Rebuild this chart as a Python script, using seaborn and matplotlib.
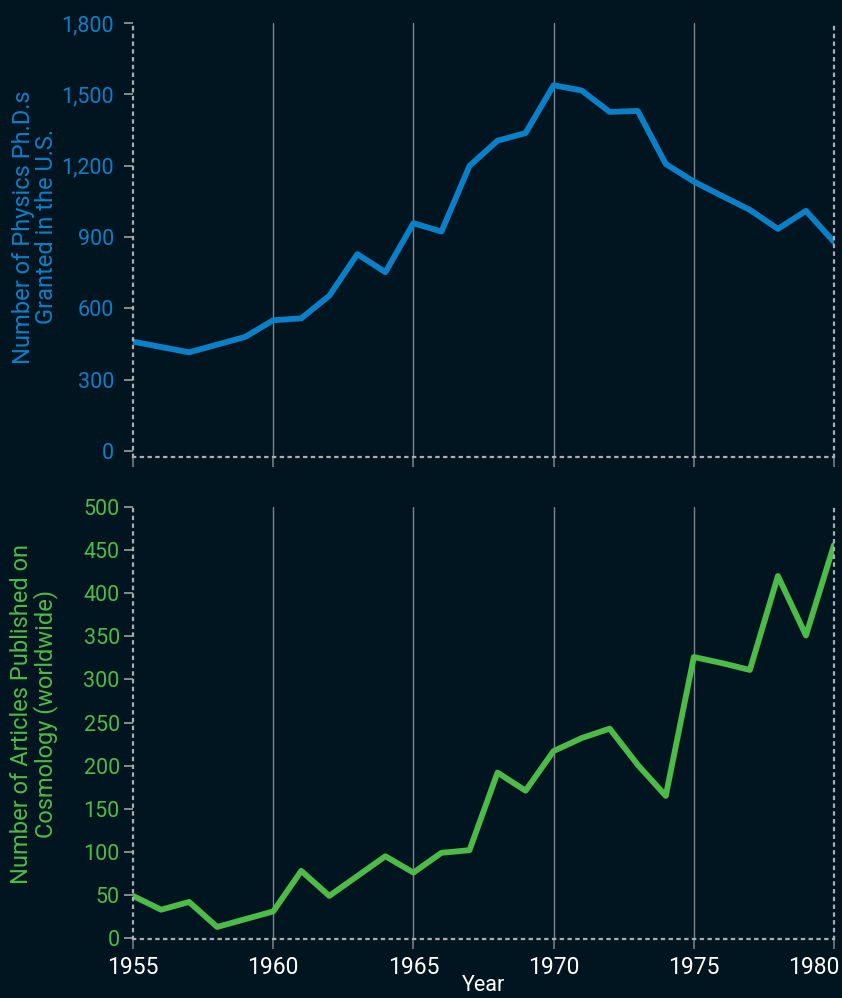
import numpy as np
import pandas as pd
import matplotlib
matplotlib.use("Agg")
import matplotlib.pyplot as plt
from matplotlib.ticker import StrMethodFormatter
from matplotlib.transforms import ScaledTranslation
import seaborn as sns

# --- data ---
phd_years = [1955, 1957, 1959, 1960, 1961, 1962, 1963, 1964, 1965, 1966, 1967, 1968,
             1969, 1970, 1971, 1972, 1973, 1974, 1975, 1976, 1977, 1978, 1979, 1980]
phd_counts = [460, 415, 480, 550, 558, 653, 828, 752, 958, 923, 1199, 1305,
              1337, 1538, 1516, 1426, 1430, 1207, 1133, 1073, 1014, 934, 1010, 879]

cosmo_years = list(range(1955, 1981))
cosmo_articles = [49, 33, 42, 13, 22, 31, 78, 49, 72, 95, 76, 99, 102,
                  192, 171, 217, 232, 243, 201, 165, 326, 319, 311, 420, 351, 456]

year_ticks = [1955, 1960, 1965, 1970, 1975, 1980]
phd_ticks = [0, 300, 600, 900, 1200, 1500, 1800]
cosmo_ticks = [0, 50, 100, 150, 200, 250, 300, 350, 400, 450, 500]

BG = "#001520"
BLUE = "#0a80c8"
GREEN = "#4dbb47"
GRID = "#7d858c"
SPINE = "#a9adb2"

sns.set_theme(style="dark", rc={
    "axes.facecolor": BG,
    "figure.facecolor": BG,
    "text.color": "white",
    "xtick.color": SPINE,
    "ytick.color": SPINE,
})
plt.rcParams["font.family"] = ["Roboto", "DejaVu Sans"]

df_phd = pd.DataFrame({"year": phd_years, "count": phd_counts})
df_cosmo = pd.DataFrame({"year": cosmo_years, "count": cosmo_articles})

fig = plt.figure(figsize=(8.42, 9.98), dpi=100)
ax1 = fig.add_axes([0.158, 0.5421, 0.8325, 0.4349])
ax2 = fig.add_axes([0.158, 0.0591, 0.8325, 0.4329])

sns.lineplot(data=df_phd, x="year", y="count", ax=ax1, color=BLUE, linewidth=4.2)
sns.lineplot(data=df_cosmo, x="year", y="count", ax=ax2, color=GREEN, linewidth=4.2)

ax1.set_ylim(-25, 1800)
ax2.set_ylim(-1, 500)

for ax, ticks, col, pad in [(ax1, phd_ticks, BLUE, 7), (ax2, cosmo_ticks, GREEN, 3)]:
    ax.set_xlim(1955, 1980)
    ax.set_xticks(year_ticks)
    ax.set_yticks(ticks)
    ax.set_facecolor(BG)
    for side in ["left", "bottom", "right"]:
        ax.spines[side].set_visible(True)
        ax.spines[side].set_color(SPINE)
        ax.spines[side].set_linestyle((0, (1, 2.5)))
        ax.spines[side].set_linewidth(1.6)
    ax.spines["top"].set_visible(False)
    ax.tick_params(axis="y", which="major", left=True, length=6.5, width=1.1,
                   color=SPINE, labelcolor=col, labelsize=15.5, pad=pad)
    ax.tick_params(axis="x", which="major", bottom=True, length=7, width=1.1,
                   color=GRID, labelcolor="white", labelsize=16.5, pad=5)
    ax.grid(axis="x", color=GRID, linewidth=1.0)
    ax.grid(axis="y", visible=False)
    gl = ax.xaxis.get_gridlines()
    gl[0].set_visible(False)
    gl[-1].set_visible(False)

ax1.yaxis.set_major_formatter(StrMethodFormatter("{x:,.0f}"))
ax1.set_xticklabels([])
ax1.set_xlabel("")
ax1.set_ylabel("Number of Physics Ph.D.s\nGranted in the U.S.", color=BLUE,
               fontsize=17, linespacing=1.0)
ax1.yaxis.set_label_coords(-0.107, 0.53)

ax2.set_ylabel("Number of Articles Published on\nCosmology (worldwide)", color=GREEN,
               fontsize=17, linespacing=1.0)
ax2.yaxis.set_label_coords(-0.107, 0.52)
ax2.set_xlabel("Year", color="white", fontsize=15.5, labelpad=-3)

# last year label sits inside the figure edge, as in the reference
last = ax2.get_xticklabels()[-1]
last.set_transform(last.get_transform() + ScaledTranslation(-0.2, 0, fig.dpi_scale_trans))

fig.savefig("out.png", dpi=100, facecolor=BG)
